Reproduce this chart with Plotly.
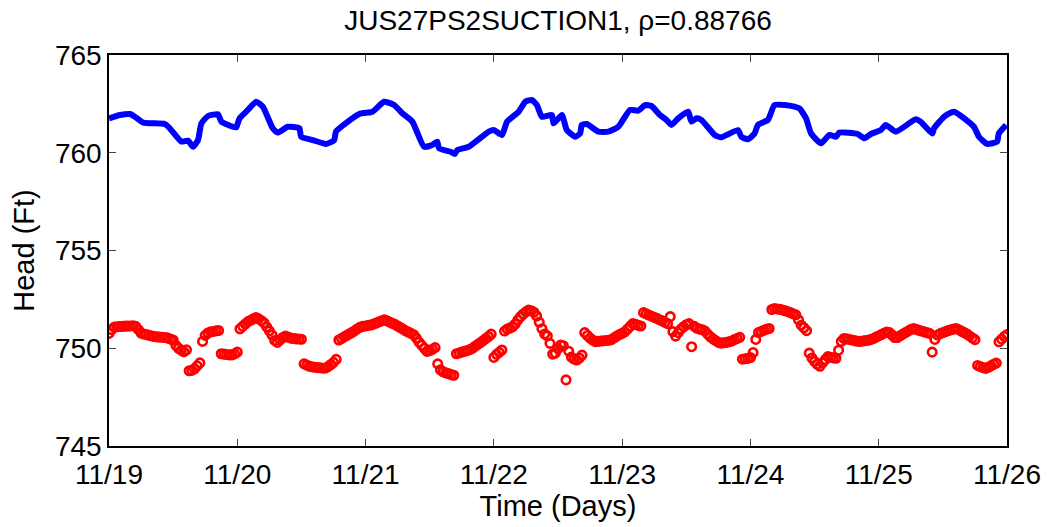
import pandas as pd
import plotly.graph_objects as go

# Observed head at JUS27PS2 pump station (blue line): hours since 11/19 00:00 and head in ft
obs_hours = [
    0.0, 2.05, 3.92, 4.85, 6.40, 10.44, 11.38, 13.56, 14.79, 15.72, 16.65, 17.29,
    18.52, 20.38, 21.02, 23.18, 23.81, 24.43, 25.98, 27.54, 28.77, 30.64, 31.57,
    33.44, 35.62, 35.94, 38.10, 40.60, 42.14, 42.46, 46.81, 49.29, 51.47, 53.34,
    54.88, 56.75, 58.93, 60.48, 61.41, 61.73, 63.91, 64.71, 65.14, 67.32, 71.05,
    71.98, 73.53, 74.46, 76.64, 77.89, 79.12, 80.06, 80.99, 82.85, 83.17, 84.72,
    85.65, 87.22, 88.15, 88.45, 89.38, 91.56, 93.43, 95.29, 97.47, 99.02, 100.27,
    101.50, 103.07, 104.30, 105.23, 106.48, 108.35, 108.96, 109.89, 110.83, 113.32,
    114.56, 117.67, 118.29, 119.54, 120.78, 121.40, 123.27, 124.51, 126.38, 128.24,
    129.17, 130.41, 131.34, 133.20, 134.77, 136.00, 136.63, 140.05, 141.30, 142.53,
    144.39, 145.33, 147.19, 150.92, 151.85, 154.03, 154.35, 156.21, 158.08, 161.81,
    162.74, 164.29, 166.15, 166.47, 167.83,
]
obs_head = [
    761.76, 761.93, 761.98, 761.84, 761.54, 761.47, 761.25, 760.57, 760.62, 760.31,
    760.65, 761.50, 761.88, 761.97, 761.59, 761.33, 761.30, 761.76, 762.19, 762.61,
    762.36, 761.25, 761.03, 761.33, 761.25, 760.82, 760.65, 760.45, 760.65, 761.08,
    761.98, 762.10, 762.61, 762.44, 762.02, 761.59, 760.31, 760.40, 760.57, 760.23,
    760.05, 759.94, 760.14, 760.31, 761.08, 761.16, 760.91, 761.59, 762.10, 762.61,
    762.70, 762.44, 761.84, 761.93, 761.50, 761.93, 761.16, 760.82, 760.99, 761.42,
    761.47, 761.08, 761.08, 761.33, 762.19, 762.15, 762.44, 762.39, 761.93, 761.68,
    761.42, 761.76, 762.10, 761.59, 761.76, 761.68, 760.91, 760.79, 761.16, 760.82,
    760.69, 760.99, 761.42, 761.68, 762.44, 762.44, 762.36, 762.27, 761.76, 760.99,
    760.48, 760.91, 760.82, 761.03, 760.96, 760.74, 760.96, 761.16, 761.42, 761.08,
    761.71, 761.59, 760.99, 761.25, 761.84, 762.10, 761.33, 760.82, 760.45, 760.57,
    760.99, 761.42,
]

# Simulated suction head (red circles), one value every 30 minutes from 11/19 00:00
sim_head = [
    750.76, 750.95, 751.08, 751.10, 751.11, 751.12, 751.13, 751.13, 751.14, 751.15, 751.12, 750.95,
    750.78, 750.73, 750.70, 750.66, 750.63, 750.60, 750.58, 750.57, 750.56, 750.55, 750.52, 750.47,
    750.42, 750.15, 750.00, 749.90, 749.82, 749.92, 748.85, 748.87, 748.95, 749.10, 749.25, 750.35,
    750.66, 750.78, 750.84, 750.86, 750.89, 750.91, 749.72, 749.70, 749.68, 749.66, 749.66, 749.71,
    749.80, 750.99, 751.12, 751.24, 751.36, 751.43, 751.50, 751.57, 751.50, 751.41, 751.30, 751.09,
    750.89, 750.68, 750.40, 750.30, 750.43, 750.55, 750.62, 750.57, 750.52, 750.50, 750.48, 750.47,
    750.46, 749.20, 749.14, 749.08, 749.05, 749.03, 749.01, 749.00, 748.98, 748.99, 749.06, 749.17,
    749.28, 749.43, 750.42, 750.50, 750.58, 750.66, 750.74, 750.82, 750.90, 751.00, 751.08, 751.12,
    751.14, 751.17, 751.19, 751.24, 751.29, 751.35, 751.40, 751.45, 751.40, 751.34, 751.28, 751.22,
    751.14, 751.06, 750.98, 750.89, 750.83, 750.76, 750.69, 750.52, 750.31, 750.15, 750.00, 749.84,
    749.88, 749.95, 750.03, 749.20, 748.90, 748.80, 748.74, 748.70, 748.65, 748.62, 749.72, 749.76,
    749.80, 749.84, 749.88, 749.93, 750.00, 750.10, 750.20, 750.29, 750.39, 750.50, 750.60, 750.72,
    749.53, 749.69, 749.79, 749.91, 750.88, 750.98, 751.03, 751.10, 751.24, 751.45, 751.62, 751.75,
    751.86, 751.95, 751.92, 751.84, 751.65, 751.33, 751.00, 750.73, 750.63, 750.25, 749.70, 749.75,
    749.98, 750.17, 750.13, 748.38, 749.85, 749.55, 749.45, 749.40, 749.50, 749.65, 750.80, 750.65,
    750.52, 750.42, 750.34, 750.35, 750.37, 750.38, 750.40, 750.41, 750.44, 750.53, 750.62, 750.70,
    750.76, 750.84, 750.98, 751.12, 751.26, 751.22, 751.17, 751.14, 751.82, 751.76, 751.70, 751.64,
    751.58, 751.53, 751.46, 751.40, 751.33, 751.26, 751.62, 750.85, 750.62, 750.80, 750.98, 751.10,
    751.20, 751.26, 750.08, 751.12, 751.02, 750.98, 750.95, 750.88, 750.72, 750.58, 750.48, 750.39,
    750.30, 750.26, 750.28, 750.30, 750.33, 750.37, 750.44, 750.50, 750.56, 749.44, 749.46, 749.48,
    749.52, 749.78, 750.45, 750.80, 750.86, 750.92, 750.97, 751.01, 751.98, 752.03, 752.01, 751.99,
    751.96, 751.92, 751.87, 751.82, 751.76, 751.71, 751.45, 751.18, 751.05, 750.90, 749.75, 749.50,
    749.32, 749.18, 749.08, 749.25, 749.42, 749.57, 749.54, 749.51, 749.49, 749.90, 750.35, 750.50,
    750.48, 750.45, 750.42, 750.39, 750.36, 750.35, 750.37, 750.39, 750.41, 750.44, 750.50, 750.57,
    750.63, 750.70, 750.77, 750.83, 750.80, 750.68, 750.55, 750.55, 750.64, 750.72, 750.80, 750.88,
    750.96, 751.01, 750.97, 750.92, 750.88, 750.84, 750.80, 750.76, 749.80, 750.45, 750.68, 750.75,
    750.80, 750.85, 750.90, 750.94, 750.98, 751.01, 750.95, 750.87, 750.80, 750.73, 750.63, 750.53,
    750.44, 749.12, 749.06, 749.01, 748.97, 749.03, 749.10, 749.18, 749.24, 750.33, 750.47, 750.60,
    750.70,
]

start = pd.Timestamp("2013-11-19")
end = pd.Timestamp("2013-11-26")
obs_time = start + pd.to_timedelta(obs_hours, unit="h")
sim_time = pd.date_range(start, periods=len(sim_head), freq="30min")

FONT = "Liberation Sans, Arial, Helvetica, sans-serif"

fig = go.Figure()
fig.add_trace(go.Scatter(
    x=obs_time, y=obs_head, mode="lines",
    line=dict(color="#0000ff", width=6, shape="spline", smoothing=0.5),
    showlegend=False,
))
fig.add_trace(go.Scatter(
    x=sim_time, y=sim_head, mode="markers",
    marker=dict(symbol="circle-open", size=8.5, color="#ff0000",
                line=dict(color="#ff0000", width=2.6)),
    showlegend=False,
))

axis_common = dict(
    showline=True, linecolor="black", linewidth=1.5, mirror="ticks",
    ticks="inside", ticklen=7, tickwidth=1.3, tickcolor="#444444",
    showgrid=False, zeroline=False,
    tickfont=dict(family=FONT, size=28, color="black"),
)

fig.update_layout(
    width=1053, height=527,
    margin=dict(l=109, r=43, t=55, b=81),
    paper_bgcolor="white", plot_bgcolor="white",
    font=dict(family=FONT, size=29, color="black"),
    title=dict(text="JUS27PS2SUCTION1, ρ=0.88766", x=0.5, xref="paper",
               y=1 - 20 / 527, yref="container", yanchor="middle",
               font=dict(family=FONT, size=28, color="black")),
    xaxis=dict(
        range=[start, end], type="date", tickformat="%m/%d",
        tick0=start, dtick=86400000, ticklabelstandoff=3,
        title=dict(text="Time (Days)", standoff=0,
                   font=dict(family=FONT, size=29, color="black")),
        **axis_common,
    ),
    yaxis=dict(
        range=[745, 765], tickvals=[745, 750, 755, 760, 765],
        title=dict(text="Head (Ft)", standoff=12,
                   font=dict(family=FONT, size=29, color="black")),
        **axis_common,
    ),
)

fig.write_html("out.html")
